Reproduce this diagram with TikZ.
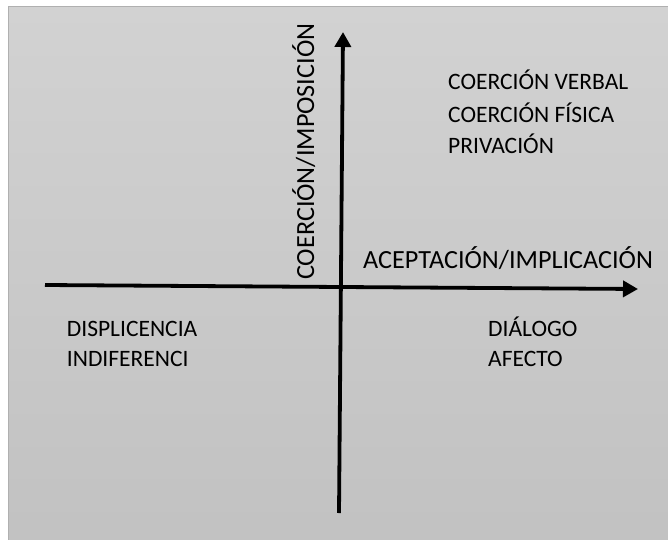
\documentclass[tikz,border=0pt]{standalone}
\usepackage{fontspec}
\setmainfont{Carlito}
\usetikzlibrary{arrows.meta}
\definecolor{bgtop}{RGB}{210,210,210}
\definecolor{bgbot}{RGB}{193,193,193}
\definecolor{frame}{RGB}{176,176,176}
\begin{document}
\begin{tikzpicture}[x=1bp,y=-1bp,
  axis/.style={line width=3.8bp,-{Triangle[length=15bp,width=16bp]}},
  quad/.style={anchor=base west,inner sep=0pt,font=\fontsize{23.6}{28}\selectfont},
  axlabel/.style={anchor=base west,inner sep=0pt,font=\fontsize{26.3}{31}\selectfont}]
\useasboundingbox (0,0) rectangle (668,540);
\fill[white] (0,0) rectangle (668,540);
\shade[top color=bgtop,bottom color=bgbot,draw=frame,line width=1.3bp] (8.5,6.5) rectangle (680,560);
% axes
\coordinate (hl) at (45,285);
\coordinate (hr) at (638,289);
\coordinate (vb) at (339,513);
\coordinate (vt) at (343,32);
\draw[axis] (hl) -- (hr);
\draw[axis] (vb) -- (vt);
% axis labels
\node[axlabel,rotate=90] (ylab) at (314,280) {COERCIÓN/IMPOSICIÓN};
\node[axlabel] (xlab) at (363,268) {ACEPTACIÓN/IMPLICACIÓN};
% quadrant labels
\node[quad] (q1) at (448,90) {COERCIÓN VERBAL};
\node[quad] (q2) at (448,122.7) {COERCIÓN FÍSICA};
\node[quad] (q3) at (448,153.3) {PRIVACIÓN};
\node[quad] (q4) at (66.7,336.7) {DISPLICENCIA};
\node[quad] (q5) at (66.7,366.7) {INDIFERENCI};
\node[quad] (q6) at (488,336.7) {DIÁLOGO};
\node[quad] (q7) at (488,366.7) {AFECTO};
\end{tikzpicture}
\end{document}
